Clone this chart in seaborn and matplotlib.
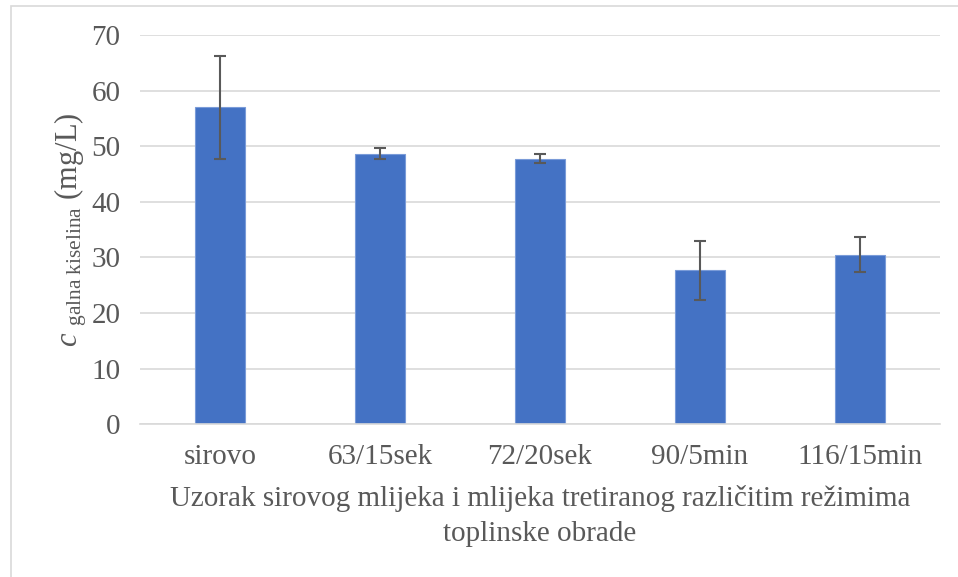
import pandas as pd
import matplotlib
matplotlib.use('Agg')
import matplotlib.pyplot as plt
import seaborn as sns
from matplotlib.patches import Rectangle

# Data
categories = ['sirovo', '63/15sek', '72/20sek', '90/5min', '116/15min']
means = [57.0, 48.7, 47.8, 27.7, 30.5]
errors = [9.3, 1.0, 0.8, 5.3, 3.2]

df = pd.DataFrame({'uzorak': categories, 'c': means, 'err': errors})

sns.set_style('white')
plt.rcParams['font.family'] = ['Liberation Serif', 'DejaVu Serif']
plt.rcParams['mathtext.fontset'] = 'custom'
plt.rcParams['mathtext.rm'] = 'Liberation Serif'
plt.rcParams['mathtext.it'] = 'Liberation Serif:italic'

TEXT = '#595959'
GRID = '#D9D9D9'
BAR = '#4472C4'

fig = plt.figure(figsize=(9.58, 5.77), dpi=100)
ax = fig.add_axes([0.146, 0.265, 0.835, 0.674])

sns.barplot(data=df, x='uzorak', y='c', color=BAR, saturation=1, width=0.31,
            edgecolor='#7A9BD8', linewidth=0.8, ax=ax, zorder=2)

# error bars centred on the drawn bars
centres = [p.get_x() + p.get_width() / 2 for p in ax.patches]
ax.errorbar(centres, df['c'], yerr=df['err'], fmt='none', ecolor=TEXT,
            elinewidth=1.5, capsize=4.5, capthick=1.5, zorder=3)

ax.set_ylim(0, 70)
ax.set_xlim(-0.5, len(categories) - 0.5)
ax.set_yticks(range(0, 71, 10))
ax.yaxis.grid(True, color=GRID, linewidth=1.2, zorder=0)
ax.set_axisbelow(True)

for side in ['top', 'right', 'left']:
    ax.spines[side].set_visible(False)
ax.spines['bottom'].set_color(GRID)
ax.spines['bottom'].set_linewidth(1.2)

ax.tick_params(axis='both', length=0, labelsize=21, labelcolor=TEXT)
ax.tick_params(axis='x', pad=14)
ax.tick_params(axis='y', pad=14)

ax.set_xlabel('Uzorak sirovog mlijeka i mlijeka tretiranog različitim režimima\ntoplinske obrade',
              fontsize=21, color=TEXT, labelpad=11, linespacing=1.45)
ax.set_ylabel(r'$\mathit{c}$ $_{\mathrm{galna\ kiselina}}$ (mg/L)', fontsize=22,
              color=TEXT, labelpad=2)

# light frame around the chart area
fig.patches.append(Rectangle((0.011, -0.01), 1.2, 1.0, transform=fig.transFigure,
                             fill=False, edgecolor=GRID, linewidth=1.2))

plt.savefig('out.png', dpi=100)
